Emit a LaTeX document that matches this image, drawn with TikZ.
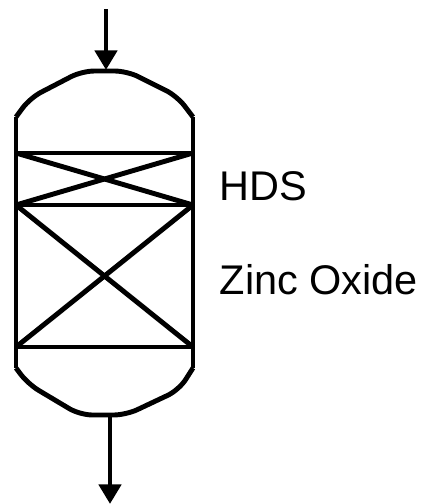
\documentclass[tikz,border=0pt]{standalone}
\usepackage{fontspec}
\setmainfont{Liberation Sans}
\usetikzlibrary{arrows.meta}
\tikzset{
  vessel/.style={line width=2.8pt},
  flow/.style={line width=2.8pt,-{Triangle[length=11.2pt,width=12.5pt]}},
  bedlabel/.style={font=\fontsize{23.6pt}{26pt}\selectfont,anchor=base west,inner sep=0pt},
}
\begin{document}
\begin{tikzpicture}[x=.2mm,y=-.2mm]
\useasboundingbox (0,0) rectangle (421,504);
\coordinate (in) at (106,9);
\coordinate (top) at (106,70);
\coordinate (bot) at (110,415);
\coordinate (out) at (110,504);
\coordinate (tl) at (16,117);
\coordinate (tr) at (193,117);
\coordinate (bl) at (16,368);
\coordinate (br) at (193,368);
% dome top and bottom
\draw[vessel,rounded corners=7pt](tl)--(30,98)--(82,71)--(127,71)--(177,96)--(tr);
\draw[vessel,rounded corners=7pt](bl)--(28,384)--(80,415)--(126,415)--(179,390)--(br);
\draw[vessel](tl)--(bl);
\draw[vessel](tr)--(br);
% beds
\coordinate (a1) at (16,153);
\coordinate (a2) at (193,153);
\coordinate (b1) at (16,205);
\coordinate (b2) at (193,205);
\coordinate (c1) at (16,347);
\coordinate (c2) at (193,347);
\draw[vessel](a1)--(a2);
\draw[vessel](b1)--(b2);
\draw[vessel](c1)--(c2);
\draw[vessel](a1)--(b2);
\draw[vessel](a2)--(b1);
\draw[vessel](b1)--(c2);
\draw[vessel](b2)--(c1);
\draw[flow](in)--(top);
\draw[flow](bot)--(out);
\node[bedlabel] (hds) at (219,200) {HDS};
\node[bedlabel] (zno) at (219.5,294) {Zinc Oxide};
\end{tikzpicture}
\end{document}
